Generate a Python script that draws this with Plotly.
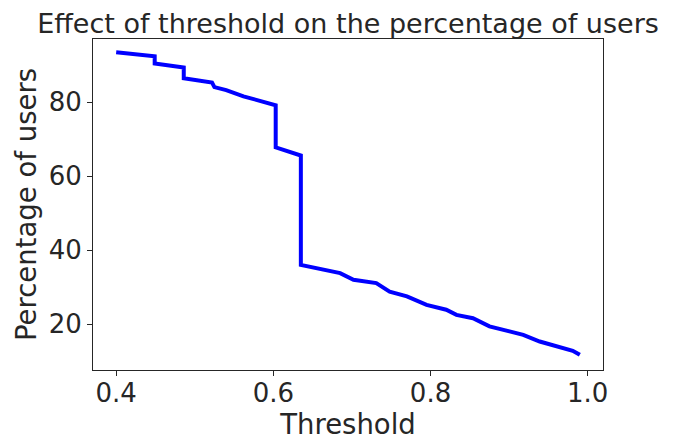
import plotly.graph_objects as go

threshold = [0.400, 0.443, 0.449, 0.449, 0.481, 0.486, 0.486, 0.519, 0.522, 0.525,
             0.540, 0.562, 0.587, 0.601, 0.603, 0.603, 0.632, 0.635, 0.635, 0.659,
             0.685, 0.702, 0.731, 0.748, 0.770, 0.795, 0.820, 0.833, 0.854, 0.875,
             0.897, 0.918, 0.939, 0.964, 0.981, 0.990]
pct_users = [93.5, 92.6, 92.4, 90.5, 89.6, 89.4, 86.5, 85.6, 85.3, 84.1,
             83.3, 81.6, 80.3, 79.4, 79.2, 67.8, 65.9, 65.6, 36.0, 34.9,
             33.8, 32.0, 31.1, 28.8, 27.5, 25.2, 23.9, 22.5, 21.6, 19.4,
             18.3, 17.1, 15.3, 13.7, 12.8, 11.7]
x_ticks = [0.4, 0.6, 0.8, 1.0]
x_tick_labels = ["0.4", "0.6", "0.8", "1.0"]
y_ticks = [20, 40, 60, 80]
y_tick_labels = ["20", "40", "60", "80"]

FONT = "DejaVu Sans"
INK = "#262626"

fig = go.Figure()
fig.add_trace(go.Scatter(
    x=threshold, y=pct_users, mode="lines",
    line=dict(color="#0000ff", width=4),
    showlegend=False,
))

fig.update_layout(
    width=678, height=443,
    margin=dict(l=93, r=75, t=39, b=73),
    paper_bgcolor="white", plot_bgcolor="white",
    font=dict(family=FONT, color=INK, size=26),
    title=dict(
        text="Effect of threshold on the percentage of users",
        font=dict(family=FONT, size=27, color=INK),
        x=0.5, xref="paper", xanchor="center",
        y=1 - 23.5 / 443, yref="container", yanchor="middle",
    ),
)

fig.update_xaxes(
    range=[0.3705, 1.0195], automargin=False,
    tickmode="array", tickvals=x_ticks, ticktext=x_tick_labels,
    ticks="outside", ticklen=5, tickwidth=1, tickcolor=INK,
    ticklabelstandoff=-5,
    showline=True, linecolor=INK, linewidth=1, mirror=True,
    showgrid=False, zeroline=False,
    tickfont=dict(family=FONT, size=26, color=INK),
    title=dict(text="Threshold", font=dict(family=FONT, size=27.5, color=INK), standoff=2),
)
fig.update_yaxes(
    range=[7.6, 97.1], automargin=False,
    tickmode="array", tickvals=y_ticks, ticktext=y_tick_labels,
    ticks="outside", ticklen=5, tickwidth=1, tickcolor=INK,
    showline=True, linecolor=INK, linewidth=1, mirror=True,
    showgrid=False, zeroline=False,
    tickfont=dict(family=FONT, size=26, color=INK),
    title=dict(text="Percentage of users", font=dict(family=FONT, size=27.5, color=INK), standoff=4),
)

fig.write_html("out.html", config={"displayModeBar": False},
               post_script="document.body.style.margin='0';")
